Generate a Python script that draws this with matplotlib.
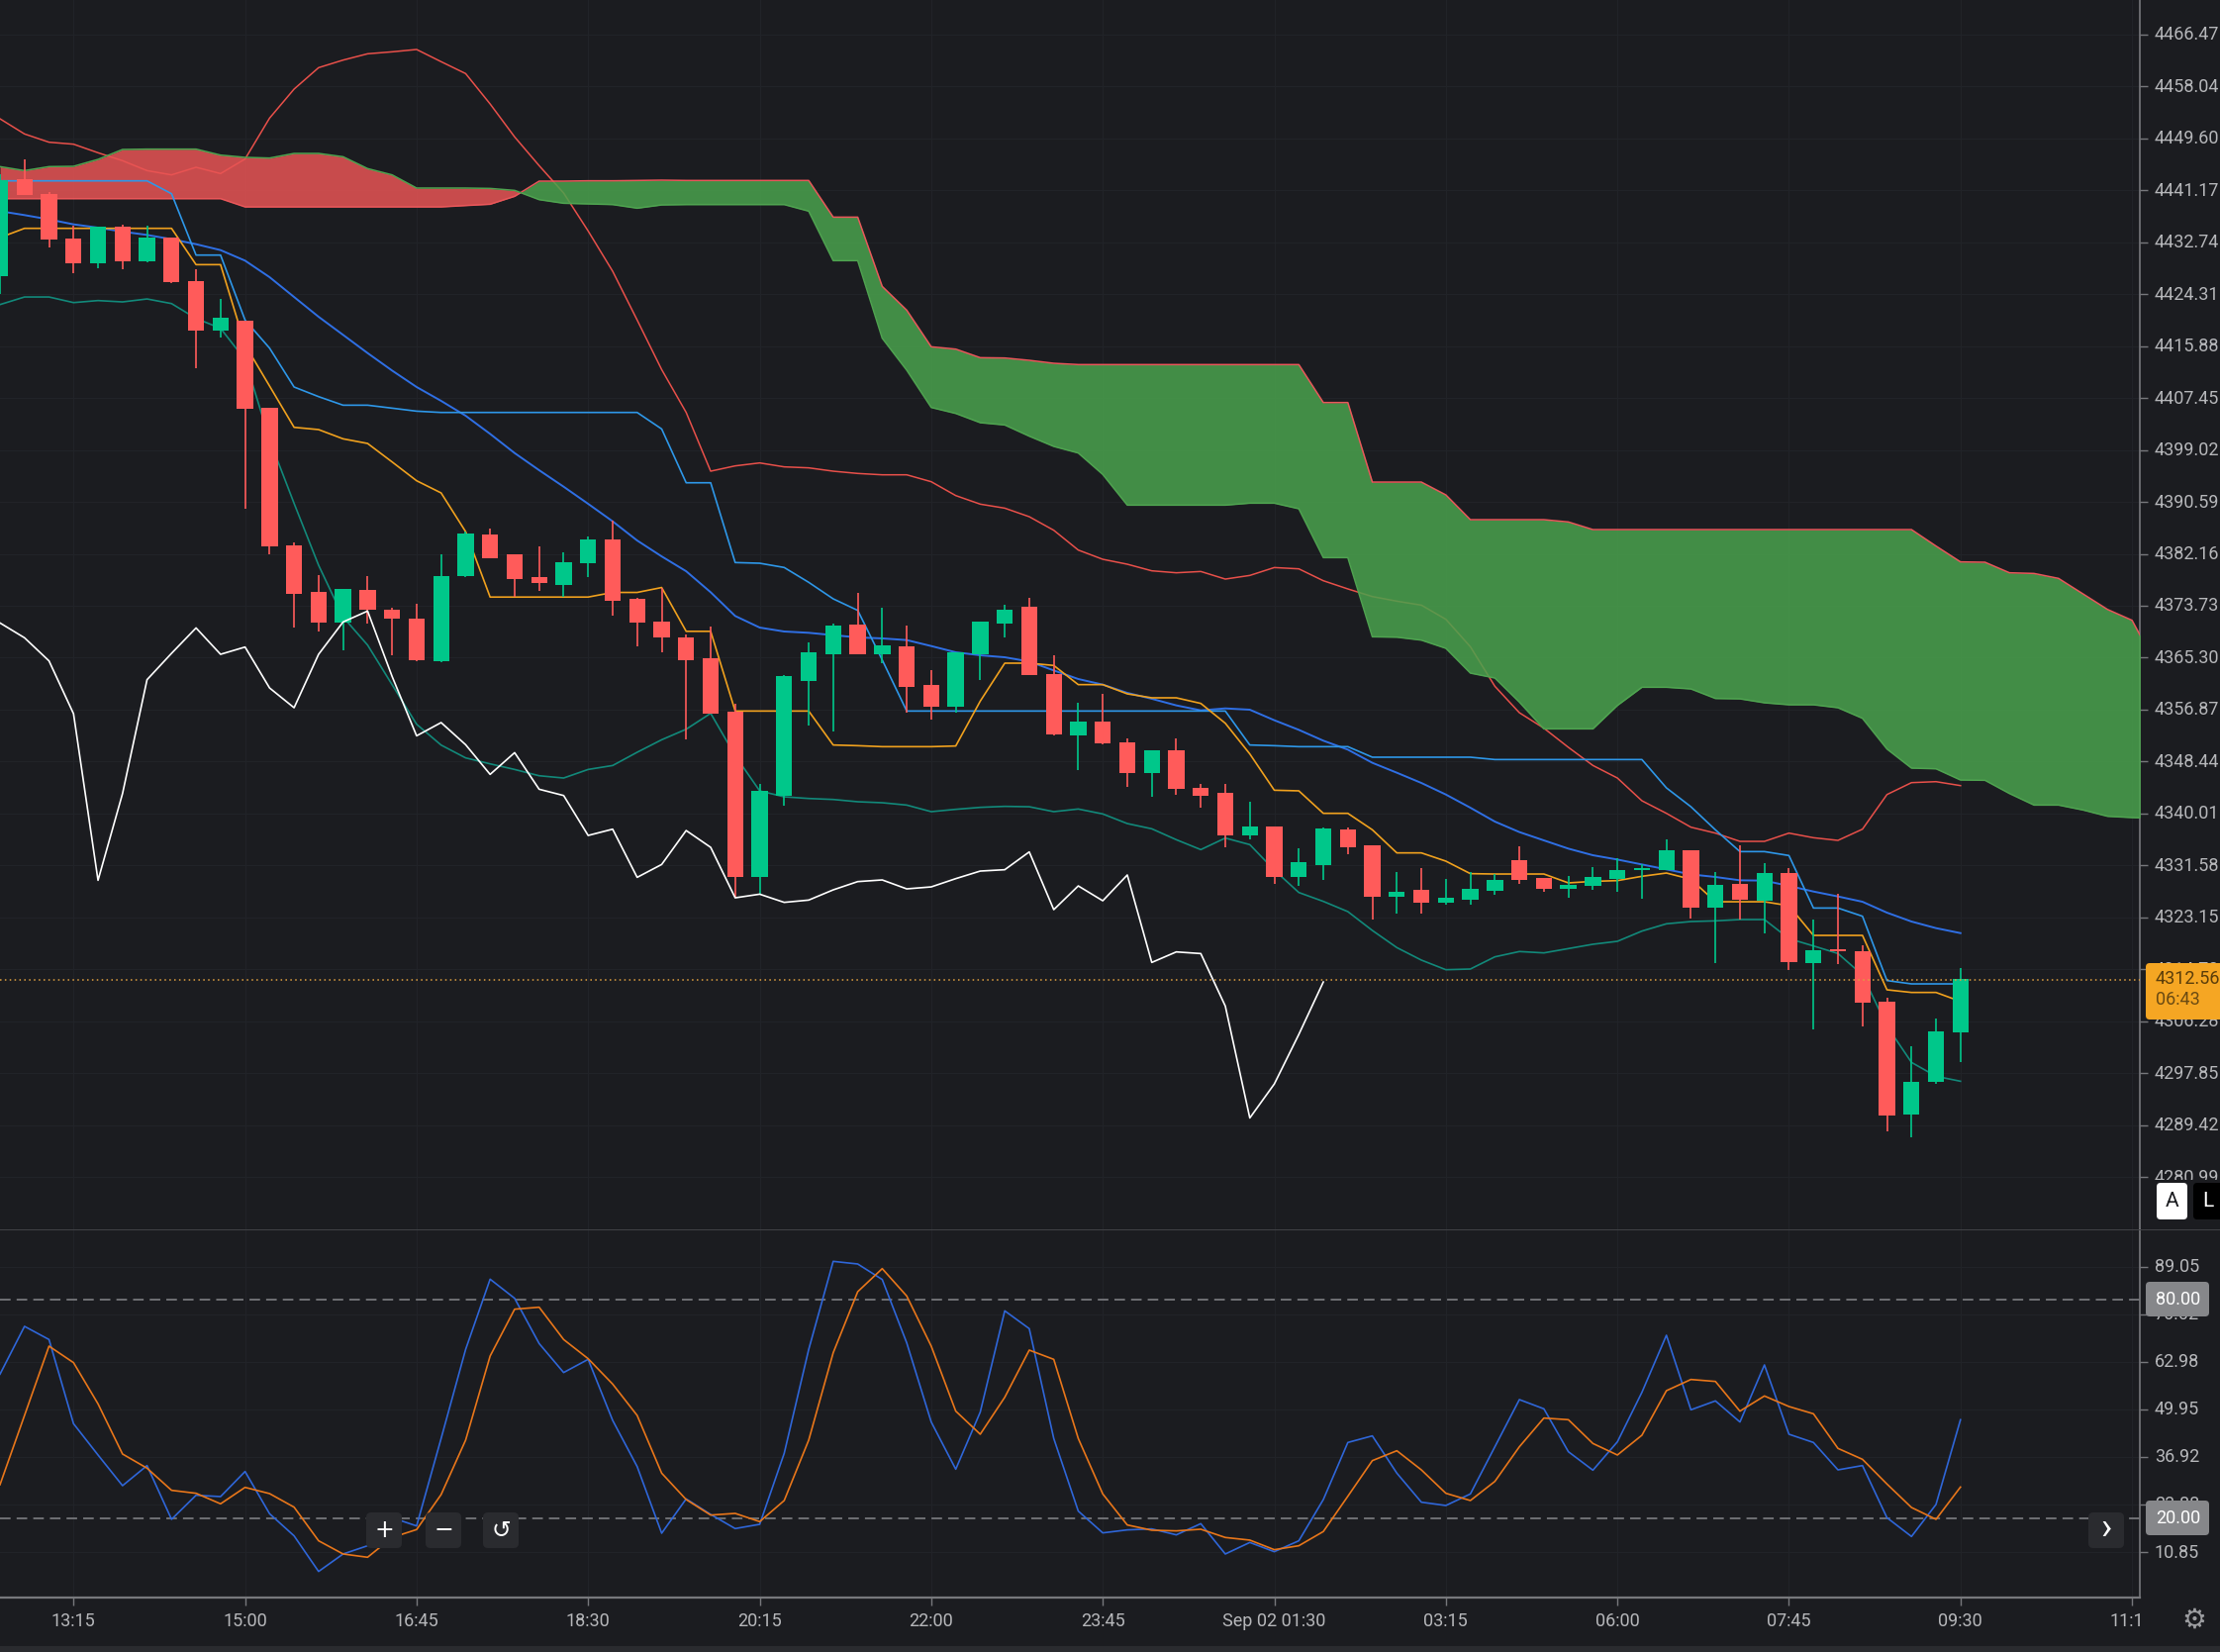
import numpy as np
import matplotlib
matplotlib.use("Agg")
import matplotlib.pyplot as plt
from matplotlib.patches import FancyBboxPatch, Rectangle
from matplotlib.transforms import ScaledTranslation

W, H = 2243, 1669
BG = "#1b1c20"

plt.rcParams["font.family"] = ["Roboto", "DejaVu Sans"]

# Candles, one per 15 minute bar
opens = [4427.18, 4442.96, 4440.55, 4433.26, 4429.24, 4435.21, 4429.70, 4433.55, 4426.49, 4418.46,
         4420.07, 4405.84, 4383.46, 4375.95, 4370.96, 4376.24, 4373.08, 4371.59, 4364.70, 4378.47,
         4385.36, 4382.03, 4378.41, 4377.15, 4380.60, 4384.44, 4374.80, 4371.13, 4368.55, 4365.16,
         4356.48, 4329.76, 4342.88, 4361.57, 4365.86, 4370.67, 4365.86, 4367.09, 4360.82, 4357.39,
         4365.86, 4370.89, 4373.51, 4362.70, 4352.63, 4354.98, 4351.61, 4346.63, 4350.22, 4344.17,
         4343.42, 4336.46, 4337.85, 4329.76, 4331.64, 4337.37, 4334.79, 4326.55, 4327.57, 4325.59,
         4326.07, 4327.52, 4332.39, 4329.50, 4327.84, 4328.32, 4329.44, 4330.89, 4330.89, 4333.99,
         4324.68, 4328.53, 4325.86, 4330.41, 4315.79, 4317.93, 4317.61, 4309.42, 4291.21, 4296.51,
         4304.44]
highs = [4443.70, 4446.17, 4440.83, 4435.38, 4435.21, 4435.56, 4435.38, 4433.55, 4428.33, 4423.51,
         4420.07, 4405.84, 4384.04, 4378.76, 4376.41, 4378.47, 4373.42, 4373.99, 4382.15, 4385.76,
         4386.20, 4382.10, 4383.29, 4382.43, 4385.01, 4387.48, 4375.00, 4376.58, 4369.12, 4370.30,
         4357.88, 4344.76, 4362.54, 4367.73, 4370.84, 4375.81, 4373.41, 4370.57, 4363.34, 4366.20,
         4371.20, 4373.94, 4374.96, 4365.75, 4357.98, 4359.43, 4352.20, 4350.30, 4352.20, 4344.76,
         4344.76, 4341.92, 4337.90, 4334.42, 4337.70, 4337.74, 4334.85, 4330.57, 4331.10, 4329.34,
         4330.51, 4330.14, 4334.69, 4329.60, 4329.87, 4331.32, 4332.71, 4331.75, 4335.76, 4334.10,
         4330.51, 4334.85, 4331.96, 4331.21, 4322.80, 4326.93, 4318.63, 4310.06, 4302.19, 4306.68,
         4314.88]
lows = [4424.31, 4440.37, 4431.94, 4427.75, 4428.56, 4428.33, 4429.47, 4426.15, 4412.32, 4417.20,
        4389.49, 4382.03, 4370.27, 4369.58, 4366.54, 4370.84, 4365.68, 4364.76, 4364.60, 4378.40,
        4381.50, 4375.14, 4376.12, 4375.14, 4378.41, 4372.16, 4367.11, 4366.14, 4351.98, 4356.20,
        4326.28, 4326.92, 4341.27, 4354.34, 4353.32, 4365.80, 4364.41, 4356.38, 4355.31, 4356.38,
        4361.73, 4368.53, 4362.50, 4352.63, 4347.11, 4351.18, 4344.33, 4342.72, 4343.00, 4341.00,
        4334.53, 4335.76, 4328.53, 4328.26, 4329.23, 4333.35, 4322.75, 4323.71, 4323.71, 4325.16,
        4325.16, 4326.82, 4328.53, 4327.30, 4326.39, 4327.57, 4327.35, 4326.12, 4330.80, 4323.02,
        4315.79, 4322.80, 4320.61, 4314.61, 4304.97, 4315.52, 4305.40, 4288.37, 4287.41, 4296.13,
        4299.62]
closes = [4442.84, 4440.37, 4433.09, 4429.24, 4435.21, 4429.70, 4433.55, 4426.32, 4418.46, 4420.52,
          4405.67, 4383.29, 4375.72, 4370.96, 4376.41, 4373.14, 4371.65, 4364.93, 4378.59, 4385.41,
          4381.51, 4378.13, 4377.44, 4380.77, 4384.44, 4374.57, 4370.96, 4368.55, 4364.93, 4356.27,
          4329.76, 4343.69, 4362.27, 4366.12, 4370.46, 4365.86, 4367.25, 4360.61, 4357.39, 4366.12,
          4371.10, 4373.03, 4362.53, 4352.90, 4354.98, 4351.45, 4346.63, 4350.22, 4343.95, 4342.88,
          4336.46, 4337.85, 4329.76, 4332.12, 4337.63, 4334.58, 4326.55, 4327.30, 4325.59, 4326.34,
          4327.73, 4329.23, 4329.28, 4327.84, 4328.48, 4329.66, 4330.89, 4331.16, 4333.99, 4324.68,
          4328.48, 4326.07, 4330.41, 4315.95, 4317.82, 4317.66, 4309.25, 4290.94, 4296.40, 4304.60,
          4313.11]

# Ichimoku cloud edges, these run on past the last candle
span_red = [4439.80] * 10 + [4438.46] * 9 + [
    4438.68, 4438.89, 4440.18, 4442.64, 4442.64, 4442.70, 4442.70, 4442.75, 4442.80, 4442.75,
    4442.75, 4442.75, 4442.75, 4442.75, 4442.75, 4436.80, 4436.80, 4425.56, 4421.70, 4415.76, 4415.38, 4413.99,
    4413.94, 4413.56, 4413.08, 4412.87, 4412.87, 4412.87, 4412.87, 4412.87, 4412.87, 4412.87,
    4412.87, 4412.87, 4412.87, 4406.71, 4406.71, 4393.80, 4393.80, 4393.80, 4391.72, 4387.70,
    4387.70, 4387.70, 4387.70, 4387.33, 4386.09, 4386.09, 4386.09, 4386.09, 4386.09, 4386.09,
    4386.09, 4386.09, 4386.09, 4386.09, 4386.09, 4386.09, 4386.09, 4386.09, 4383.42, 4380.85,
    4380.79, 4379.08, 4378.97, 4378.17, 4375.65, 4373.13, 4371.37, 4364.00]
span_green = [4445.00, 4444.35, 4445.00, 4445.05, 4446.17, 4447.78, 4447.84, 4447.84, 4447.84, 4446.87,
              4446.50, 4446.39, 4447.14, 4447.14, 4446.60, 4444.68, 4443.66, 4441.52, 4441.52, 4441.52,
              4441.46, 4441.14, 4439.64, 4439.05, 4438.95, 4438.84, 4438.25, 4438.78, 4438.84, 4438.84,
              4438.84, 4438.84, 4438.84, 4437.77, 4429.74, 4429.74, 4417.15, 4411.96, 4405.91, 4404.94,
              4403.44, 4403.07, 4401.25, 4399.59, 4398.52, 4395.04, 4390.06, 4390.06, 4390.06, 4390.06,
              4390.06, 4390.38, 4390.38, 4389.47, 4381.54, 4381.54, 4368.69, 4368.63, 4368.15, 4366.82,
              4362.80, 4362.00, 4358.09, 4353.75, 4353.75, 4353.75, 4357.55, 4360.50, 4360.50, 4360.23,
              4358.68, 4358.62, 4357.98, 4357.66, 4357.66, 4357.18, 4355.46, 4350.48, 4347.38, 4347.27,
              4345.45, 4345.40, 4343.25, 4341.38, 4341.38, 4340.58, 4339.56, 4339.35, 4339.24]

# Indicator lines on the price pane
upper_band = [4452.76, 4450.30, 4448.96, 4448.64, 4447.25, 4445.96, 4444.35, 4443.66, 4444.89, 4443.87,
              4446.23, 4452.87, 4457.58, 4461.06, 4462.29, 4463.31, 4463.63, 4464.01, 4462.03, 4460.10,
              4455.17, 4449.82, 4445.16, 4440.71, 4434.55, 4428.02, 4420.10, 4412.06, 4405.10, 4395.57,
              4396.43, 4396.91, 4396.27, 4396.11, 4395.57, 4395.20, 4394.98, 4394.98, 4393.86, 4391.61,
              4390.22, 4389.57, 4388.18, 4385.98, 4382.77, 4381.27, 4380.47, 4379.40, 4379.08, 4379.29,
              4378.06, 4378.65, 4379.93, 4379.72, 4377.79, 4376.46, 4375.22, 4374.47, 4373.83, 4371.53,
              4367.08, 4360.66, 4356.37, 4353.86, 4350.75, 4347.81, 4345.77, 4342.08, 4340.04, 4337.79,
              4336.83, 4335.49, 4335.49, 4336.83, 4336.08, 4335.65, 4337.47, 4343.09, 4345.02, 4345.18,
              4344.54]
slow_ma = [4437.77, 4437.13, 4436.43, 4435.63, 4435.09, 4434.45, 4433.91, 4433.22, 4432.41, 4431.45,
           4429.74, 4427.06, 4423.84, 4420.63, 4417.69, 4414.74, 4411.90, 4409.23, 4406.98, 4404.57,
           4401.62, 4398.51, 4395.73, 4393.05, 4390.27, 4387.43, 4384.32, 4381.74, 4379.33, 4375.92,
           4372.07, 4370.19, 4369.55, 4369.34, 4368.96, 4368.59, 4368.43, 4368.16, 4367.19, 4366.18,
           4365.69, 4365.37, 4364.68, 4363.23, 4361.84, 4360.93, 4359.59, 4358.63, 4357.56, 4356.75,
           4357.07, 4356.86, 4355.15, 4353.59, 4351.83, 4350.38, 4348.24, 4346.63, 4344.97, 4343.09,
           4340.95, 4338.70, 4337.00, 4335.65, 4334.31, 4333.24, 4332.54, 4331.74, 4330.94, 4330.13,
           4329.71, 4329.17, 4329.12, 4328.26, 4327.35, 4326.55, 4325.69, 4323.92, 4322.48, 4321.41,
           4320.60]
kijun = [4442.69, 4442.69, 4442.69, 4442.69, 4442.69, 4442.69, 4442.69, 4440.60, 4430.64, 4430.64,
         4420.10, 4415.54, 4409.23, 4407.67, 4406.28, 4406.28, 4405.80, 4405.31, 4405.10, 4405.10,
         4405.10, 4405.10, 4405.10, 4405.10, 4405.10, 4405.10, 4405.10, 4402.42, 4393.69, 4393.69,
         4380.74, 4380.63, 4379.94, 4377.53, 4374.85, 4372.98, 4364.94, 4356.64, 4356.64, 4356.64,
         4356.64, 4356.64, 4356.64, 4356.64, 4356.64, 4356.64, 4356.64, 4356.64, 4356.64, 4356.64,
         4356.64, 4351.13, 4351.02, 4350.86, 4350.86, 4350.86, 4349.15, 4349.15, 4349.15, 4349.15,
         4349.15, 4348.77, 4348.77, 4348.77, 4348.77, 4348.77, 4348.77, 4348.77, 4344.17, 4341.11,
         4337.36, 4333.83, 4333.83, 4333.19, 4324.67, 4324.67, 4323.34, 4312.90, 4312.36, 4312.36,
         4312.36]
tenkan = [4433.48, 4434.98, 4434.98, 4434.98, 4434.98, 4434.98, 4434.98, 4434.98, 4429.09, 4429.09,
          4416.08, 4409.39, 4402.69, 4402.32, 4400.82, 4400.07, 4397.07, 4394.02, 4392.04, 4385.76,
          4375.14, 4375.14, 4375.14, 4375.14, 4375.14, 4375.89, 4375.89, 4376.69, 4369.58, 4369.58,
          4356.64, 4356.64, 4356.64, 4356.64, 4351.13, 4351.02, 4350.86, 4350.86, 4350.86, 4350.97,
          4358.25, 4364.41, 4364.41, 4364.04, 4360.93, 4360.93, 4359.43, 4358.79, 4358.79, 4357.88,
          4354.66, 4349.68, 4343.79, 4343.69, 4340.04, 4340.04, 4337.37, 4333.62, 4333.62, 4332.28,
          4330.25, 4330.19, 4330.19, 4330.19, 4328.75, 4329.00, 4329.12, 4329.82, 4330.35, 4329.34,
          4325.69, 4325.69, 4325.69, 4325.05, 4320.23, 4320.23, 4320.23, 4311.40, 4310.97, 4310.97,
          4309.52]
lower_band = [4422.61, 4423.84, 4423.84, 4422.93, 4423.26, 4423.04, 4423.52, 4422.77, 4420.36, 4418.76,
              4413.67, 4400.67, 4390.35, 4380.31, 4371.90, 4367.35, 4360.92, 4354.50, 4351.12, 4349.04,
              4348.07, 4347.16, 4346.14, 4345.77, 4347.16, 4347.80, 4349.95, 4351.98, 4353.69, 4356.27,
              4349.41, 4343.68, 4342.72, 4342.45, 4342.29, 4341.92, 4341.76, 4341.38, 4340.31, 4340.69,
              4341.01, 4341.17, 4341.11, 4340.31, 4340.74, 4339.94, 4338.38, 4337.53, 4335.76, 4334.15,
              4336.03, 4334.96, 4330.83, 4327.19, 4325.75, 4324.09, 4321.03, 4318.25, 4316.22, 4314.66,
              4314.77, 4316.75, 4317.61, 4317.39, 4318.09, 4318.79, 4319.27, 4320.93, 4322.11, 4322.48,
              4322.59, 4322.80, 4322.80, 4319.70, 4318.52, 4317.29, 4313.81, 4305.51, 4299.62, 4297.37,
              4296.56]
chikou = [4370.94, 4368.53, 4364.78, 4356.21, 4329.17, 4343.25, 4361.73, 4366.01, 4370.13, 4365.85,
          4367.03, 4360.39, 4357.18, 4365.85, 4371.10, 4372.87, 4362.26, 4352.62, 4354.77, 4351.18,
          4346.36, 4349.89, 4343.95, 4342.93, 4336.45, 4337.47, 4329.65, 4331.74, 4337.25, 4334.52,
          4326.33, 4326.92, 4325.59, 4325.96, 4327.62, 4328.96, 4329.23, 4327.78, 4328.10, 4329.44,
          4330.67, 4330.89, 4333.78, 4324.41, 4328.26, 4325.85, 4330.03, 4315.84, 4317.55, 4317.28,
          4308.76, 4290.60, 4296.12, 4304.16, 4312.67]

# Stochastic pane
stoch_k = [59.58, 72.68, 69.07, 46.02, 37.44, 29.04, 34.55, 19.82, 26.42, 26.05,
           32.92, 21.36, 15.30, 5.54, 10.33, 12.59, 20.27, 18.01, 41.96, 66.35,
           85.60, 80.36, 67.98, 60.03, 63.64, 46.93, 34.28, 16.02, 25.42, 21.17,
           17.29, 18.46, 37.89, 66.35, 90.48, 89.76, 85.51, 68.16, 46.48, 33.55,
           49.19, 76.93, 72.05, 41.96, 22.08, 16.11, 16.93, 17.20, 15.57, 18.64,
           10.33, 13.49, 10.96, 13.95, 25.24, 40.87, 42.68, 32.47, 24.52, 23.61,
           26.78, 39.70, 52.62, 50.09, 38.34, 33.28, 41.05, 54.61, 70.24, 49.82,
           52.26, 46.48, 62.11, 43.13, 40.87, 33.37, 34.55, 20.27, 15.12, 23.89,
           47.11]
stoch_d = [29.31, 48.28, 67.26, 62.74, 51.45, 37.71, 33.83, 27.77, 26.96, 24.07,
           28.58, 26.87, 23.16, 13.95, 10.33, 9.43, 14.85, 17.02, 26.60, 41.51,
           64.55, 77.38, 77.92, 69.07, 63.82, 56.87, 48.28, 32.47, 25.24, 20.99,
           21.45, 19.19, 24.97, 41.51, 65.45, 82.17, 88.49, 80.99, 67.26, 49.46,
           43.13, 53.25, 66.17, 63.64, 41.96, 26.78, 18.28, 16.84, 16.66, 17.11,
           14.85, 14.13, 11.51, 12.59, 16.48, 26.14, 35.90, 38.61, 33.37, 26.96,
           24.97, 30.21, 39.70, 47.56, 47.11, 40.60, 37.44, 42.86, 55.06, 58.13,
           57.59, 49.46, 53.61, 50.72, 48.73, 39.25, 36.26, 29.49, 23.07, 19.82,
           28.67]

price_ticks = [4466.47, 4458.04, 4449.60, 4441.17, 4432.74, 4424.31, 4415.88, 4407.45, 4399.02, 4390.59,
               4382.16, 4373.73, 4365.30, 4356.87, 4348.44, 4340.01, 4331.58, 4323.15, 4314.72, 4306.28,
               4297.85, 4289.42, 4280.99]
stoch_ticks = [89.05, 76.02, 62.98, 49.95, 36.92, 23.88, 10.85]
time_ticks = [3, 10, 17, 24, 31, 38, 45, 52, 59, 66, 73, 80, 87]
time_labels = ["13:15", "15:00", "16:45", "18:30", "20:15", "22:00", "23:45", "Sep 02 01:30",
               "03:15", "06:00", "07:45", "09:30", "11:15"]
last_price = 4313.0

UP = "#00c78a"
DOWN = "#ff5b5a"
GRID = "#222429"
AXIS = "#77787c"
LABEL = "#b6b7ba"
FS = 13

fig = plt.figure(figsize=(W / 100, H / 100), dpi=100, facecolor=BG)
right = 2161.5 / W
ax = fig.add_axes([0, (H - 1242) / H, right, 1242 / H], facecolor=BG)
ax2 = fig.add_axes([0, (H - 1614) / H, right, 372 / H], facecolor=BG)

for a in (ax, ax2):
    a.set_xlim(0, 2161.5 / 24.76)
    a.set_xticks(time_ticks)
    a.grid(True, color=GRID, lw=0.7)
    a.set_axisbelow(True)
    a.yaxis.tick_right()
    for s in ("top", "left"):
        a.spines[s].set_visible(False)
    a.spines["right"].set_color(AXIS)
    a.spines["right"].set_linewidth(1.2)
    a.tick_params(axis="y", length=6, width=1, color=AXIS, labelcolor=LABEL, labelsize=FS, pad=5)

# price pane
ax.set_ylim(4472.04 - 1242 / 6.225, 4472.04)
ax.set_yticks(price_ticks)
ax.set_yticklabels([f"{v:.2f}" for v in price_ticks])
ax.tick_params(axis="x", length=0, labelbottom=False)
ax.spines["bottom"].set_visible(False)

x = np.arange(len(opens))
cx = np.arange(len(span_red))
red = np.array(span_red)
green = np.array(span_green)

ax.plot(np.arange(len(upper_band)), upper_band, color="#e8504a", lw=1.1, zorder=2)
ax.fill_between(cx, red, green, where=red >= green, interpolate=True, color="#4aa24d", alpha=0.85, lw=0, zorder=3)
ax.fill_between(cx, red, green, where=red < green, interpolate=True, color="#e85454", alpha=0.85, lw=0, zorder=3)
ax.plot(cx, red, color="#e9575a", lw=1.1, zorder=3.5)
ax.plot(cx, green, color="#4fa350", lw=1.1, zorder=3.5)

ax.plot(x, slow_ma, color="#2f6fe4", lw=1.4, zorder=4)
ax.plot(x, kijun, color="#2e97e8", lw=1.2, zorder=4)
ax.plot(x, tenkan, color="#f0a11e", lw=1.2, zorder=4)
ax.plot(x, lower_band, color="#12897a", lw=1.2, zorder=4)

o = np.array(opens)
c = np.array(closes)
colors = [UP if b >= a else DOWN for a, b in zip(opens, closes)]
ax.vlines(x, lows, highs, colors=colors, lw=1.2, zorder=5)
ax.bar(x, np.abs(c - o), bottom=np.minimum(o, c), width=0.66, color=colors, lw=0, zorder=5)

ax.plot(np.arange(len(chikou)), chikou, color="#ffffff", lw=1.2, zorder=6)
ax.axhline(last_price, color="#e0a040", lw=1.1, ls=(0, (1, 2.2)), zorder=6)

# stochastic pane
ax2.set_ylim(20 - (1614 - 1534.3) / 3.689, 80 + (1313 - 1242) / 3.689)
ax2.set_yticks(stoch_ticks)
ax2.set_yticklabels([f"{v:.2f}" for v in stoch_ticks])
ax2.set_xticklabels(time_labels)
ax2.spines["bottom"].set_color(AXIS)
ax2.spines["bottom"].set_linewidth(1.6)
ax2.tick_params(axis="x", length=6, width=1, color=AXIS, labelcolor=LABEL, labelsize=FS, pad=4.5)

for level in (80, 20):
    ax2.axhline(level, color="#85868a", lw=1.1, ls=(0, (7, 4)), zorder=2)
ax2.plot(x, stoch_k, color="#2f66d8", lw=1.2, zorder=3)
ax2.plot(x, stoch_d, color="#e8761a", lw=1.2, zorder=4)

# nudge the scale labels up a little
nudge = ScaledTranslation(0, 1.5 / 100, fig.dpi_scale_trans)
for a in (ax, ax2):
    for lab in a.get_yticklabels():
        lab.set_transform(lab.get_transform() + nudge)

# overlay in pixel coordinates for the screen furniture
ui = fig.add_axes([0, 0, 1, 1], zorder=10)
ui.set_xlim(0, W)
ui.set_ylim(H, 0)
ui.axis("off")


def tag(x0, y0, x1, y1, color, rad=4):
    ui.add_patch(FancyBboxPatch((x0 + rad, y0 + rad), x1 - x0 - 2 * rad, y1 - y0 - 2 * rad,
                                boxstyle=f"round,pad={rad},rounding_size={rad}", fc=color, ec="none"))


# hide the parts of labels that the chart clips
ui.add_patch(Rectangle((2163, 1192), 80, 49, fc=BG, ec="none"))
ui.add_patch(Rectangle((2163, 1616), 80, 47, fc=BG, ec="none"))
ui.add_patch(Rectangle((0, 1663), W, 6, fc="#2a2b2f", ec="none"))
ui.add_patch(Rectangle((0, 1241.5), W, 1.5, fc="#404145", ec="none"))

tag(2168, 973, 2260, 1030, "#f5a623")
ui.text(2178, 989, "4312.56", color="#5a3d0a", fontsize=FS, va="center")
ui.text(2178, 1010, "06:43", color="#6a4a12", fontsize=FS, va="center")

for y0, y1, label in [(1295, 1330, "80.00"), (1516, 1551, "20.00")]:
    tag(2168, y0, 2232, y1, "#86878a")
    ui.text(2178, (y0 + y1) / 2, label, color="#ffffff", fontsize=FS, va="center")

tag(2179, 1195, 2210, 1232, "#ffffff")
ui.text(2194.5, 1213.5, "A", color="#1b1c20", fontsize=FS + 2, ha="center", va="center")
tag(2216, 1195, 2260, 1232, "#000000")
ui.text(2231, 1213.5, "L", color="#ffffff", fontsize=FS + 2, ha="center", va="center")

for bx, symbol in [(388, "+"), (448, "\u2212"), (506, "\u21ba")]:
    tag(bx - 18, 1528, bx + 18, 1564, "#2a2b2f", rad=5)
    ui.text(bx, 1546, symbol, color="#ffffff", fontsize=FS + 4, ha="center", va="center",
            family=["DejaVu Sans"])
tag(2110, 1528, 2146, 1564, "#2a2b2f", rad=5)
ui.text(2128, 1544, "\u203a", color="#ffffff", fontsize=FS + 14, ha="center", va="center")

ui.text(2217, 1637, "\u2699", color="#9c9da0", fontsize=FS + 7, ha="center", va="center",
        family=["DejaVu Sans"])

fig.savefig("out.png", dpi=100, facecolor=BG)
